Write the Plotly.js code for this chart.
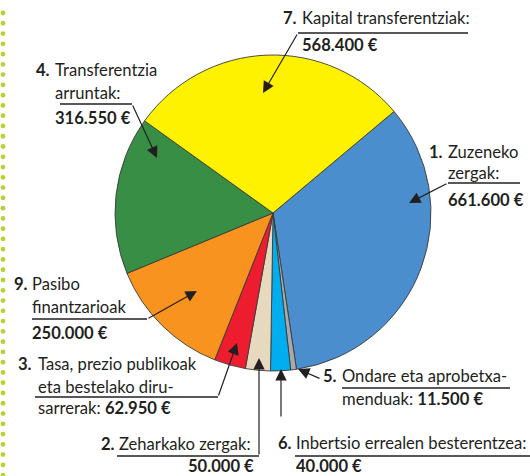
<!DOCTYPE html>
<html>
<head>
<meta charset="utf-8">
<script src="https://cdn.plot.ly/plotly-3.0.1.min.js"></script>
<style>html,body{margin:0;padding:0;background:#fff;}#chart{width:530px;height:476px;}</style>
</head>
<body>
<div id="chart"></div>
<script>
// ---- data ----
var itemNumbers = ["1.", "5.", "6.", "2.", "3.", "9.", "4.", "7."];
var itemNames = [
  "Zuzeneko zergak",
  "Ondare eta aprobetxamenduak",
  "Inbertsio errealen besterentzea",
  "Zeharkako zergak",
  "Tasa, prezio publikoak eta bestelako diru-sarrerak",
  "Pasibo finantzarioak",
  "Transferentzia arruntak",
  "Kapital transferentziak"
];
var itemValues = [661600, 11500, 40000, 50000, 62950, 250000, 316550, 568400];
// label text lines as printed (the amount is appended from itemValues)
var labelLines = [
  ["Zuzeneko", "zergak:"],
  ["Ondare eta aprobetxa-", "menduak: "],
  ["Inbertsio errealen besterentzea:"],
  ["Zeharkako zergak:"],
  ["Tasa, prezio publikoak", "eta bestelako diru-", "sarrerak: "],
  ["Pasibo", "finantzarioak"],
  ["Transferentzia", "arruntak:"],
  ["Kapital transferentziak:"]
];
// whether amount is written inline on the last text line
var amountInline = [false, true, false, false, true, false, false, false];

// ---- styles / layout ----
var sliceColors = ["#4a8ecd", "#a7a9ac", "#00aeef", "#e6d9bd", "#ed1c2e", "#f7931e", "#388e45", "#fff200"];
var W = 530, H = 476;
function px(x){ return x / W; }
function py(y){ return 1 - y / H; }
var txtColor = "#231f20";
var FONT = "Lato, 'Open Sans', sans-serif";
var FS = 16.6;

// label placement (pixels): numRight, textX, line y centers, amount pos, underline, arrow
var place = [
  {numR:444, tx:447, ys:[152,173], amt:[447,200,"left"], ul:[448,520,183], arr:[448,183,409,203]},
  {numR:338, tx:341, ys:[376,399], amt:null, ul:[342,510,388], arr:[321,379,298,369]},
  {numR:293, tx:295, ys:[443], amt:[295,466,"left"], ul:[295,530,456], arr:[281,418,281,369]},
  {numR:116, tx:118, ys:[444], amt:[255,466,"right"], ul:[117,259,456], arr:[259,456,259,358]},
  {numR:33, tx:37, ys:[364,387,408], amt:null, ul:[35,218,397], arr:[218,397,237,343]},
  {numR:29, tx:31, ys:[284,307], amt:[31,333,"left"], ul:[32,147,319], arr:[147,319,197,291]},
  {numR:51, tx:54, ys:[70,93], amt:[54,118,"left"], ul:[60,132,104], arr:[132,104,157,158]},
  {numR:298, tx:301, ys:[18], amt:[301,45,"left"], ul:[298,468,33], arr:[298,33,263,93]}
];

function fmt(v){
  var s = String(v);
  return s.replace(/\B(?=(\d{3})+(?!\d))/g, ".") + " €";
}

var annotations = [];
var shapes = [];
function addText(x, y, html, anchor){
  annotations.push({xref:"paper", yref:"paper", x:px(x), y:py(y), text:html, showarrow:false,
    xanchor:anchor||"left", yanchor:"middle", borderpad:0,
    font:{family:FONT, size:FS, color:txtColor}});
}

for (var i = 0; i < itemValues.length; i++){
  var p = place[i];
  addText(p.numR, p.ys[0], "<b>" + itemNumbers[i] + "</b>", "right");
  var lines = labelLines[i];
  for (var j = 0; j < lines.length; j++){
    var t = lines[j];
    if (j === lines.length - 1 && amountInline[i]) t = t + "<b>" + fmt(itemValues[i]) + "</b>";
    addText(p.tx, p.ys[j], t, "left");
  }
  if (p.amt) addText(p.amt[0], p.amt[1], "<b>" + fmt(itemValues[i]) + "</b>", p.amt[2]);
  shapes.push({type:"line", xref:"paper", yref:"paper", x0:px(p.ul[0]), x1:px(p.ul[1]), y0:py(p.ul[2]), y1:py(p.ul[2]),
    line:{color:"#231f20", width:1.3}});
  var a = p.arr;
  annotations.push({xref:"paper", yref:"paper", x:px(a[2]), y:py(a[3]), axref:"pixel", ayref:"pixel",
    ax:a[0]-a[2], ay:a[1]-a[3], text:"", showarrow:true, arrowhead:2, arrowsize:1.9, arrowwidth:1.2,
    arrowcolor:"#231f20", standoff:0, startstandoff:0});
}

// dotted decoration at left (round dots)
for (var dy = 13; dy < H; dy += 10.27){
  shapes.push({type:"circle", xref:"paper", yref:"paper", x0:px(0.6), x1:px(5.4), y0:py(dy-2.4), y1:py(dy+2.4),
    fillcolor:"#b5d334", line:{width:0}});
}

var trace = {
  type:"pie",
  labels:itemNames,
  values:itemValues,
  sort:false,
  direction:"clockwise",
  rotation:50,
  textinfo:"none",
  hoverinfo:"none",
  showlegend:false,
  marker:{colors:sliceColors, line:{color:"#3a3a3a", width:0.9}},
  domain:{x:[px(115), px(431)], y:[py(371), py(55)]}
};

var layout = {
  width:W, height:H,
  margin:{l:0, r:0, t:0, b:0},
  paper_bgcolor:"#ffffff",
  showlegend:false,
  annotations:annotations,
  shapes:shapes
};

Plotly.newPlot("chart", [trace], layout, {displayModeBar:false, staticPlot:true});
</script>
</body>
</html>
